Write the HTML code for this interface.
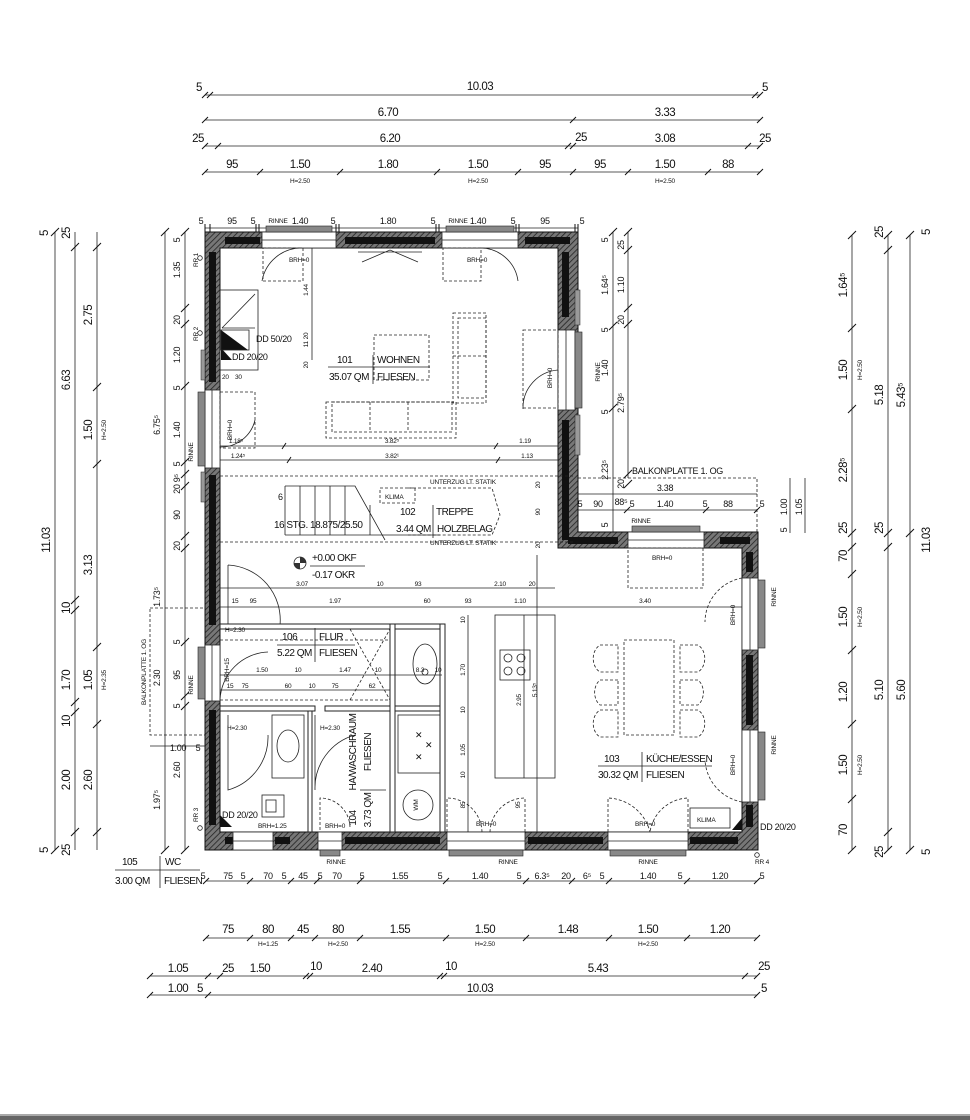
<!DOCTYPE html>
<html><head><meta charset="utf-8"><style>
html,body{margin:0;padding:0;background:#fff;}
svg{display:block;font-family:"Liberation Sans",sans-serif;}
text{fill:#111;}
.d{stroke:#222;stroke-width:0.8;fill:none}
.t{stroke:#111;stroke-width:1;}
.s{font-size:9px;letter-spacing:-0.3px;}
.xs{font-size:6.5px;letter-spacing:-0.2px;}
.m{font-size:10px;letter-spacing:-0.5px;}
.l{font-size:11.5px;letter-spacing:-0.5px;}
.dash{stroke:#222;stroke-width:0.8;fill:none;stroke-dasharray:3 2}
.thin{stroke:#222;stroke-width:0.8;fill:none}
.win{fill:#fff;stroke:#222;stroke-width:0.8}
.rin{fill:#888;stroke:#222;stroke-width:0.6}
</style></head><body>
<svg width="970" height="1120" viewBox="0 0 970 1120" xmlns="http://www.w3.org/2000/svg">
<defs>
<pattern id="h" width="4" height="4" patternUnits="userSpaceOnUse" patternTransform="rotate(45)">
<rect width="4" height="4" fill="#777"/><line x1="0" y1="0" x2="0" y2="4" stroke="#222" stroke-width="1.6"/>
</pattern>
</defs>

<!-- TOP DIMENSIONS -->
<g class="d">
<line x1="205" y1="95" x2="760" y2="95"/>
<line x1="205" y1="120" x2="760" y2="120"/>
<line x1="205" y1="146" x2="760" y2="146"/>
<line x1="205" y1="172" x2="760" y2="172"/>
<line x1="205" y1="228" x2="578" y2="228"/>
</g>
<g class="t">
<path d="M202 98l6-6M207 98l6-6M752 98l6-6M757 98l6-6"/>
<path d="M202 123l6-6M570 123l6-6M757 123l6-6"/>
<path d="M202 149l6-6M215 149l6-6M565 149l6-6M570 149l6-6M745 149l6-6M757 149l6-6"/>
<path d="M202 175l6-6M257 175l6-6M337 175l6-6M434 175l6-6M515 175l6-6M570 175l6-6M625 175l6-6M705 175l6-6M757 175l6-6"/>
<path d="M205 224v8M210 224v8M256 224v8M259 224v8M336 224v8M339 224v8M436 224v8M439 224v8M516 224v8M519 224v8M575 224v8M578 224v8"/>
</g>
<g class="l" text-anchor="middle">
<text x="480" y="90">10.03</text><text x="199" y="91">5</text><text x="765" y="91">5</text>
<text x="388" y="116">6.70</text><text x="665" y="116">3.33</text>
<text x="390" y="142">6.20</text><text x="198" y="142">25</text><text x="581" y="141">25</text><text x="665" y="142">3.08</text><text x="765" y="142">25</text>
<text x="232" y="168">95</text><text x="300" y="168">1.50</text><text x="388" y="168">1.80</text><text x="478" y="168">1.50</text><text x="545" y="168">95</text><text x="600" y="168">95</text><text x="665" y="168">1.50</text><text x="728" y="168">88</text>
</g>
<g class="xs" text-anchor="middle"><text x="300" y="183">H=2.50</text><text x="478" y="183">H=2.50</text><text x="665" y="183">H=2.50</text></g>
<g class="s" text-anchor="middle">
<text x="201" y="224">5</text><text x="232" y="224">95</text><text x="253" y="224">5</text><text x="300" y="224">1.40</text><text x="333" y="224">5</text><text x="388" y="224">1.80</text><text x="433" y="224">5</text><text x="478" y="224">1.40</text><text x="513" y="224">5</text><text x="545" y="224">95</text><text x="582" y="224">5</text>
</g>

<!-- LEFT DIMENSIONS -->
<g class="d">
<line x1="55" y1="232" x2="55" y2="850"/>
<line x1="75" y1="232" x2="75" y2="850"/>
<line x1="97" y1="232" x2="97" y2="850"/>
<line x1="165" y1="232" x2="165" y2="850"/>
<line x1="185" y1="232" x2="185" y2="850"/>
</g>
<g class="t">
<path d="M51 236l8-8M51 854l8-8M71 251l8-8M71 836l8-8M71 604l8-8M71 614l8-8M71 706l8-8M71 716l8-8M93 251l8-8M93 391l8-8M93 468l8-8M93 651l8-8M93 728l8-8M93 836l8-8"/>
<path d="M161 236l8-8M161 854l8-8M181 236l8-8M181 312l8-8M181 328l8-8M181 390l8-8M181 466l8-8M181 478l8-8M181 490l8-8M181 540l8-8M181 552l8-8M181 646l8-8M181 700l8-8M181 710l8-8M181 854l8-8"/>
</g>
<g class="l" text-anchor="middle">
<text transform="translate(50,540) rotate(-90)">11.03</text>
<text transform="translate(48,233) rotate(-90)">5</text>
<text transform="translate(70,233) rotate(-90)">25</text>
<text transform="translate(70,380) rotate(-90)">6.63</text>
<text transform="translate(92,315) rotate(-90)">2.75</text>
<text transform="translate(92,430) rotate(-90)">1.50</text>
<text transform="translate(92,565) rotate(-90)">3.13</text>
<text transform="translate(70,608) rotate(-90)">10</text>
<text transform="translate(70,680) rotate(-90)">1.70</text>
<text transform="translate(92,680) rotate(-90)">1.05</text>
<text transform="translate(70,721) rotate(-90)">10</text>
<text transform="translate(70,780) rotate(-90)">2.00</text>
<text transform="translate(92,780) rotate(-90)">2.60</text>
<text transform="translate(48,850) rotate(-90)">5</text>
<text transform="translate(70,850) rotate(-90)">25</text>
</g>
<g class="xs" text-anchor="middle">
<text transform="translate(106,430) rotate(-90)">H=2.50</text>
<text transform="translate(106,680) rotate(-90)">H=2.35</text>
</g>
<g class="s" text-anchor="middle">
<text transform="translate(180,240) rotate(-90)">5</text>
<text transform="translate(180,270) rotate(-90)">1.35</text>
<text transform="translate(180,320) rotate(-90)">20</text>
<text transform="translate(180,355) rotate(-90)">1.20</text>
<text transform="translate(180,388) rotate(-90)">5</text>
<text transform="translate(180,430) rotate(-90)">1.40</text>
<text transform="translate(160,425) rotate(-90)">6.75⁵</text>
<text transform="translate(180,464) rotate(-90)">5</text>
<text transform="translate(180,484) rotate(-90)">20 9⁵</text>
<text transform="translate(180,515) rotate(-90)">90</text>
<text transform="translate(180,546) rotate(-90)">20</text>
<text transform="translate(160,597) rotate(-90)">1.73⁵</text>
<text transform="translate(180,642) rotate(-90)">5</text>
<text transform="translate(180,675) rotate(-90)">95</text>
<text transform="translate(180,706) rotate(-90)">5</text>
<text transform="translate(180,770) rotate(-90)">2.60</text>
<text transform="translate(160,800) rotate(-90)">1.97⁵</text>
<text transform="translate(160,678) rotate(-90)">2.30</text>
<text x="178" y="751">1.00</text><text x="198" y="751">5</text>
</g>
<g class="xs" text-anchor="middle">
<text transform="translate(146,672) rotate(-90)">BALKONPLATTE 1. OG</text>
<text transform="translate(198,260) rotate(-90)">RR 1</text>
<text transform="translate(198,334) rotate(-90)">RR 2</text>
<text transform="translate(198,815) rotate(-90)">RR 3</text>
<text transform="translate(193,452) rotate(-90)">RINNE</text>
<text transform="translate(193,685) rotate(-90)">RINNE</text>
</g>
<rect x="150" y="608" width="55" height="127" class="dash"/>
<line x1="150" y1="746" x2="205" y2="746" class="d"/>
<g class="thin"><circle cx="200" cy="258" r="2.3"/><circle cx="200" cy="333" r="2.3"/><circle cx="200" cy="828" r="2.3"/><circle cx="757" cy="855" r="2.3"/></g>

<!-- RIGHT DIMENSIONS -->
<g class="d">
<line x1="613" y1="232" x2="613" y2="548"/>
<line x1="628" y1="232" x2="628" y2="478"/>
<line x1="852" y1="235" x2="852" y2="850"/>
<line x1="888" y1="235" x2="888" y2="850"/>
<line x1="910" y1="235" x2="910" y2="850"/>
<line x1="790" y1="478" x2="790" y2="533"/>
<line x1="805" y1="478" x2="805" y2="533"/>
</g>
<g class="t">
<path d="M848 239l8-8M848 332l8-8M848 413l8-8M848 537l8-8M848 551l8-8M848 578l8-8M848 654l8-8M848 728l8-8M848 803l8-8M848 854l8-8"/>
<path d="M884 239l8-8M884 254l8-8M884 537l8-8M884 551l8-8M884 836l8-8M884 854l8-8"/>
<path d="M906 239l8-8M906 537l8-8M906 854l8-8"/>
<path d="M609 236l8-8M624 236l8-8M624 254l8-8M624 312l8-8M624 328l8-8M609 330l8-8M609 412l8-8M624 478l8-8M624 488l8-8"/>
</g>
<g class="l" text-anchor="middle">
<text transform="translate(847,285) rotate(-90)">1.64⁵</text>
<text transform="translate(847,370) rotate(-90)">1.50</text>
<text transform="translate(847,470) rotate(-90)">2.28⁵</text>
<text transform="translate(847,528) rotate(-90)">25</text>
<text transform="translate(847,556) rotate(-90)">70</text>
<text transform="translate(847,617) rotate(-90)">1.50</text>
<text transform="translate(847,692) rotate(-90)">1.20</text>
<text transform="translate(847,765) rotate(-90)">1.50</text>
<text transform="translate(847,830) rotate(-90)">70</text>
<text transform="translate(883,232) rotate(-90)">25</text>
<text transform="translate(883,395) rotate(-90)">5.18</text>
<text transform="translate(883,528) rotate(-90)">25</text>
<text transform="translate(883,690) rotate(-90)">5.10</text>
<text transform="translate(883,852) rotate(-90)">25</text>
<text transform="translate(930,232) rotate(-90)">5</text>
<text transform="translate(905,395) rotate(-90)">5.43⁵</text>
<text transform="translate(930,540) rotate(-90)">11.03</text>
<text transform="translate(905,690) rotate(-90)">5.60</text>
<text transform="translate(930,852) rotate(-90)">5</text>
</g>
<g class="xs" text-anchor="middle">
<text transform="translate(862,370) rotate(-90)">H=2.50</text>
<text transform="translate(862,617) rotate(-90)">H=2.50</text>
<text transform="translate(862,765) rotate(-90)">H=2.50</text>
</g>
<g class="s" text-anchor="middle">
<text transform="translate(608,240) rotate(-90)">5</text>
<text transform="translate(624,245) rotate(-90)">25</text>
<text transform="translate(608,285) rotate(-90)">1.64⁵</text>
<text transform="translate(624,285) rotate(-90)">1.10</text>
<text transform="translate(624,320) rotate(-90)">20</text>
<text transform="translate(608,330) rotate(-90)">5</text>
<text transform="translate(608,368) rotate(-90)">1.40</text>
<text transform="translate(624,403) rotate(-90)">2.79⁵</text>
<text transform="translate(608,412) rotate(-90)">5</text>
<text transform="translate(608,470) rotate(-90)">2.23⁵</text>
<text transform="translate(624,484) rotate(-90)">20</text>
<text transform="translate(608,525) rotate(-90)">5</text>
<text transform="translate(787,507) rotate(-90)">1.00</text>
<text transform="translate(802,507) rotate(-90)">1.05</text>
<text transform="translate(787,530) rotate(-90)">5</text>
</g>
<g class="xs"><text transform="translate(600,372) rotate(-90)" text-anchor="middle">RINNE</text><text transform="translate(776,597) rotate(-90)" text-anchor="middle">RINNE</text><text transform="translate(776,745) rotate(-90)" text-anchor="middle">RINNE</text></g>

<!-- Balkonplatte right -->
<path d="M578 478H757V533" class="dash"/>
<line x1="578" y1="494" x2="757" y2="494" class="d"/>
<line x1="578" y1="510" x2="757" y2="510" class="d"/>
<text x="632" y="474" class="s">BALKONPLATTE 1. OG</text>
<text x="665" y="491" class="s" text-anchor="middle">3.38</text>
<g class="s" text-anchor="middle"><text x="580" y="507">5</text><text x="598" y="507">90</text><text x="621" y="505">88⁵</text><text x="632" y="507">5</text><text x="665" y="507">1.40</text><text x="705" y="507">5</text><text x="728" y="507">88</text><text x="762" y="507">5</text></g>
<g class="t"><path d="M624 513l6-6M703 513l6-6M754 513l6-6"/></g>

<!-- BOTTOM DIMENSIONS -->
<g class="d">
<line x1="206" y1="881" x2="757" y2="881"/>
<line x1="206" y1="938" x2="757" y2="938"/>
<line x1="150" y1="976" x2="757" y2="976"/>
<line x1="150" y1="995" x2="757" y2="995"/>
</g>
<g class="t">
<path d="M203 884l6-6M247 884l6-6M288 884l6-6M314 884l6-6M357 884l6-6M443 884l6-6M523 884l6-6M569 884l6-6M606 884l6-6M684 884l6-6M754 884l6-6"/>
<path d="M203 941l6-6M247 941l6-6M288 941l6-6M312 941l6-6M357 941l6-6M443 941l6-6M523 941l6-6M606 941l6-6M684 941l6-6M754 941l6-6"/>
<path d="M147 979l6-6M205 979l6-6M217 979l6-6M303 979l6-6M307 979l6-6M437 979l6-6M441 979l6-6M742 979l6-6M754 979l6-6"/>
<path d="M147 998l6-6M205 998l6-6M754 998l6-6"/>
</g>
<g class="s" text-anchor="middle">
<text x="203" y="879">5</text><text x="228" y="879">75</text><text x="243" y="879">5</text><text x="268" y="879">70</text><text x="284" y="879">5</text><text x="303" y="879">45</text><text x="320" y="879">5</text><text x="337" y="879">70</text><text x="362" y="879">5</text><text x="400" y="879">1.55</text><text x="440" y="879">5</text><text x="480" y="879">1.40</text><text x="519" y="879">5</text><text x="542" y="879">6.3⁵</text><text x="566" y="879">20</text><text x="587" y="879">6⁵</text><text x="602" y="879">5</text><text x="648" y="879">1.40</text><text x="680" y="879">5</text><text x="720" y="879">1.20</text><text x="762" y="879">5</text>
</g>
<g class="l" text-anchor="middle">
<text x="228" y="933">75</text><text x="268" y="933">80</text><text x="303" y="933">45</text><text x="338" y="933">80</text><text x="400" y="933">1.55</text><text x="485" y="933">1.50</text><text x="568" y="933">1.48</text><text x="648" y="933">1.50</text><text x="720" y="933">1.20</text>
<text x="178" y="972">1.05</text><text x="228" y="972">25</text><text x="260" y="972">1.50</text><text x="316" y="970">10</text><text x="372" y="972">2.40</text><text x="451" y="970">10</text><text x="598" y="972">5.43</text><text x="764" y="970">25</text>
<text x="178" y="992">1.00</text><text x="200" y="992">5</text><text x="480" y="992">10.03</text><text x="764" y="992">5</text>
</g>
<g class="xs" text-anchor="middle"><text x="268" y="946">H=1.25</text><text x="338" y="946">H=2.50</text><text x="485" y="946">H=2.50</text><text x="648" y="946">H=2.50</text></g>
<g class="m"><text x="122" y="865">105</text><text x="165" y="865">WC</text><text x="115" y="884">3.00 QM</text><text x="164" y="884">FLIESEN</text></g>
<line x1="115" y1="870" x2="200" y2="870" class="d"/><line x1="160" y1="856" x2="160" y2="888" class="d"/>

<!-- BUILDING WALLS -->
<path d="M205 232H578V532H758V850H205Z M220 248V832H742V548H558V248Z" fill="url(#h)" fill-rule="evenodd" stroke="#111" stroke-width="1"/>
<g fill="#111">
<rect x="209" y="252" width="7" height="130"/><rect x="209" y="475" width="7" height="150"/><rect x="209" y="710" width="7" height="115"/>
<rect x="225" y="237" width="35" height="7"/><rect x="345" y="237" width="90" height="7"/><rect x="525" y="237" width="45" height="7"/>
<rect x="562" y="252" width="7" height="65"/><rect x="562" y="420" width="7" height="120"/>
<rect x="568" y="537" width="50" height="7"/><rect x="720" y="537" width="30" height="7"/>
<rect x="746" y="552" width="7" height="20"/><rect x="746" y="655" width="7" height="70"/><rect x="746" y="805" width="7" height="22"/>
<rect x="225" y="837" width="8" height="7"/><rect x="275" y="837" width="15" height="7"/><rect x="345" y="837" width="95" height="7"/><rect x="528" y="837" width="75" height="7"/><rect x="690" y="837" width="48" height="7"/>
</g>
<!-- windows -->
<g class="win">
<rect x="262" y="232" width="74" height="16"/><rect x="442" y="232" width="76" height="16"/>
<rect x="205" y="390" width="15" height="78"/><rect x="205" y="645" width="15" height="56"/>
<rect x="558" y="330" width="17" height="80"/>
<rect x="628" y="532" width="76" height="16"/>
<rect x="742" y="578" width="16" height="72"/><rect x="742" y="730" width="16" height="72"/>
<rect x="233" y="832" width="40" height="18"/><rect x="318" y="832" width="24" height="18"/><rect x="447" y="832" width="78" height="18"/><rect x="608" y="832" width="80" height="18"/>
</g>
<g class="thin"><path d="M262 240H336M442 240H518M212 390V468M212 645V701M566 330V410M628 540H704M750 578V650M750 730V802M233 841H273M318 841H342M447 841H525M608 841H688"/></g>
<!-- rinne -->
<g class="rin">
<rect x="266" y="226" width="66" height="6"/><rect x="446" y="226" width="68" height="6"/>
<rect x="198" y="392" width="7" height="74"/><rect x="198" y="647" width="7" height="52"/>
<rect x="575" y="332" width="7" height="76"/><rect x="632" y="526" width="68" height="6"/>
<rect x="758" y="580" width="7" height="68"/><rect x="758" y="732" width="7" height="68"/>
<rect x="320" y="850" width="20" height="6"/><rect x="449" y="850" width="74" height="6"/><rect x="610" y="850" width="76" height="6"/>
</g>
<g class="xs" text-anchor="middle"><text x="278" y="223">RINNE</text><text x="458" y="223">RINNE</text><text x="641" y="523">RINNE</text><text x="336" y="864">RINNE</text><text x="508" y="864">RINNE</text><text x="648" y="864">RINNE</text><text x="762" y="864">RR 4</text></g>
<g fill="#999" stroke="#222" stroke-width="0.5"><rect x="575" y="290" width="5" height="35"/><rect x="575" y="415" width="5" height="40"/><rect x="201" y="350" width="4" height="30"/><rect x="201" y="472" width="4" height="30"/></g>

<!-- INTERIOR -->
<g class="dash"><rect x="263" y="248" width="40" height="33"/><rect x="443" y="248" width="38" height="33"/><rect x="523" y="330" width="35" height="78"/><rect x="220" y="392" width="35" height="56"/></g>
<g class="thin">
<path d="M262 281A40 40 0 0 1 302 248M518 281A38 38 0 0 0 480 248M523 409A38 38 0 0 1 558 370M220 447A35 35 0 0 0 255 420"/>
<path d="M362 262L390 250L418 262M358 252H422"/>
</g>
<text x="289" y="262" class="xs">BRH=0</text><text x="467" y="262" class="xs">BRH=0</text>
<text transform="translate(552,378) rotate(-90)" class="xs" text-anchor="middle">BRH=0</text>
<text transform="translate(232,430) rotate(-90)" class="xs" text-anchor="middle">BRH=0</text>
<rect x="220" y="290" width="38" height="80" class="thin"/>
<path d="M222 328L255 294M222 328H255" class="thin"/>
<path d="M221 330L248 350H221Z" fill="#111"/><path d="M221 348L232 360H221Z" fill="#111"/>
<rect x="221" y="330" width="28" height="20" class="thin"/>
<text x="256" y="342" class="s">DD 50/20</text><text x="232" y="360" class="s">DD 20/20</text>
<text x="222" y="379" class="xs">20</text><text x="235" y="379" class="xs">30</text>
<path d="M312 248V360" class="d"/><text transform="translate(308,290) rotate(-90)" class="xs" text-anchor="middle">1.44</text>
<text transform="translate(308,340) rotate(-90)" class="xs" text-anchor="middle">11 20</text><text transform="translate(308,365) rotate(-90)" class="xs" text-anchor="middle">20</text>
<g class="dash">
<rect x="374" y="335" width="55" height="45"/><rect x="453" y="313" width="33" height="90"/><rect x="458" y="318" width="28" height="80"/>
<rect x="326" y="402" width="130" height="36"/><rect x="332" y="402" width="120" height="30"/>
<line x1="370" y1="402" x2="370" y2="432"/><line x1="408" y1="402" x2="408" y2="432"/><line x1="453" y1="356" x2="486" y2="356"/>
</g>
<text x="337" y="363" class="m">101</text><text x="377" y="363" class="m">WOHNEN</text>
<text x="329" y="380" class="m">35.07 QM</text><text x="377" y="380" class="m">FLIESEN</text>
<path d="M328 367H430M373 355V384" class="thin"/>
<g class="d"><line x1="220" y1="446" x2="558" y2="446"/><line x1="220" y1="460" x2="558" y2="460"/></g>
<g class="t"><path d="M282 449l4-6M494 449l4-6M287 463l4-6M496 463l4-6"/></g>
<g class="xs" text-anchor="middle"><text x="236" y="443">1.18⁵</text><text x="392" y="443">3.82⁵</text><text x="525" y="443">1.19</text><text x="238" y="458">1.24⁵</text><text x="392" y="458">3.82¹</text><text x="527" y="458">1.13</text></g>
<g class="dash"><line x1="220" y1="476" x2="575" y2="476"/><line x1="220" y1="542" x2="575" y2="542"/><rect x="380" y="488" width="35" height="15"/><path d="M408 488H492L500 515L492 535H408"/></g>
<g class="thin">
<path d="M285 486H355L385 540M285 486V535M300 486V535M315 486V535M330 486V535M345 486V535M285 535H440M370 535V505"/>
</g>
<text x="430" y="484" class="xs">UNTERZUG LT. STATIK</text><text x="430" y="545" class="xs">UNTERZUG LT. STATIK</text>
<text x="385" y="499" class="xs">KLIMA</text>
<text x="278" y="500" class="s">6</text>
<text x="274" y="528" class="m">16 STG. 18.875/25.50</text>
<text x="400" y="515" class="m">102</text><text x="436" y="515" class="m">TREPPE</text>
<text x="396" y="532" class="m">3.44 QM</text><text x="437" y="532" class="m">HOLZBELAG</text>
<path d="M433 505V538" class="thin"/>
<text transform="translate(540,485) rotate(-90)" class="xs" text-anchor="middle">20</text>
<text transform="translate(540,512) rotate(-90)" class="xs" text-anchor="middle">90</text>
<text transform="translate(540,545) rotate(-90)" class="xs" text-anchor="middle">20</text>
<circle cx="300" cy="563" r="6" class="thin"/><path d="M300 557A6 6 0 0 1 306 563H300Z M300 569A6 6 0 0 1 294 563H300Z" fill="#333"/>
<text x="312" y="561" class="m">+0.00 OKF</text><text x="312" y="578" class="m">-0.17 OKR</text>
<line x1="310" y1="566" x2="365" y2="566" class="thin"/>
<g class="d"><line x1="220" y1="588" x2="555" y2="588"/><line x1="220" y1="607" x2="742" y2="607"/></g>
<g class="xs" text-anchor="middle"><text x="302" y="586">3.07</text><text x="380" y="586">10</text><text x="418" y="586">93</text><text x="500" y="586">2.10</text><text x="532" y="586">20</text>
<text x="235" y="603">15</text><text x="253" y="603">95</text><text x="335" y="603">1.97</text><text x="427" y="603">60</text><text x="468" y="603">93</text><text x="520" y="603">1.10</text><text x="645" y="603">3.40</text></g>
<path d="M228 565V625M228 565A55 55 0 0 1 280 625" class="thin"/>
<g fill="#fff" stroke="#222" stroke-width="1">
<rect x="220" y="624" width="225" height="5"/>
<rect x="220" y="706" width="95" height="5"/><rect x="325" y="706" width="120" height="5"/>
<rect x="390" y="624" width="5" height="208"/><rect x="440" y="624" width="5" height="208"/>
<rect x="308" y="711" width="4" height="121"/>
</g>
<g class="dash"><path d="M220 640H390M220 700H390M350 629L390 700M350 700L390 629"/></g>
<text x="225" y="632" class="xs">H=2.30</text>
<text x="282" y="640" class="m">106</text><text x="319" y="640" class="m">FLUR</text>
<text x="277" y="656" class="m">5.22 QM</text><text x="319" y="656" class="m">FLIESEN</text>
<path d="M277 645H355M315 628V662" class="thin"/>
<g class="d"><line x1="220" y1="675" x2="442" y2="675"/><line x1="220" y1="690" x2="390" y2="690"/></g>
<g class="xs" text-anchor="middle"><text x="262" y="672">1.50</text><text x="298" y="672">10</text><text x="345" y="672">1.47</text><text x="378" y="672">10</text><text x="420" y="672">8.3</text><text x="438" y="672">10</text>
<text x="230" y="688">15</text><text x="245" y="688">75</text><text x="288" y="688">60</text><text x="312" y="688">10</text><text x="335" y="688">75</text><text x="372" y="688">62</text></g>
<text transform="translate(229,670) rotate(-90)" class="xs" text-anchor="middle">BRH=15</text>
<path d="M220 700A50 50 0 0 1 268 652" class="thin"/>
<text x="227" y="730" class="xs">H=2.30</text><text x="320" y="730" class="xs">H=2.30</text>
<path d="M228 715V790A55 55 0 0 0 268 735M315 715V790A55 55 0 0 1 355 735" class="thin"/>
<rect x="272" y="715" width="32" height="63" class="thin"/><ellipse cx="288" cy="746" rx="11" ry="16" class="thin"/>
<rect x="262" y="795" width="22" height="22" class="thin"/><rect x="266" y="800" width="10" height="12" class="thin"/>
<path d="M220 815L232 827H220Z" fill="#111"/>
<text x="222" y="818" class="s">DD 20/20</text><text x="258" y="828" class="xs">BRH=1.25</text>
<path d="M320 830V798A30 30 0 0 1 350 828" class="dash"/><text x="325" y="828" class="xs">BRH=0</text>
<text transform="translate(356,752) rotate(-90)" class="m" text-anchor="middle">HA/WASCHRAUM</text>
<text transform="translate(371,752) rotate(-90)" class="m" text-anchor="middle">FLIESEN</text>
<text transform="translate(356,818) rotate(-90)" class="m" text-anchor="middle">104</text>
<text transform="translate(371,810) rotate(-90)" class="m" text-anchor="middle">3.73 QM</text>
<path d="M360 790H386" class="thin"/>
<ellipse cx="425" cy="664" rx="12" ry="20" class="thin"/><circle cx="425" cy="672" r="3" class="thin"/>
<rect x="398" y="715" width="42" height="58" class="thin"/>
<text x="415" y="738" class="s">✕</text><text x="425" y="748" class="s">✕</text><text x="415" y="760" class="s">✕</text>
<circle cx="418" cy="805" r="15" class="thin"/><text transform="translate(418,805) rotate(-90)" class="xs" text-anchor="middle">WM</text>
<rect x="495" y="615" width="60" height="163" class="thin"/>
<rect x="500" y="650" width="30" height="30" class="thin"/>
<g class="thin"><circle cx="508" cy="658" r="4"/><circle cx="521" cy="658" r="4"/><circle cx="508" cy="671" r="4"/><circle cx="521" cy="671" r="4"/></g>
<line x1="524" y1="615" x2="524" y2="778" class="thin"/><line x1="537" y1="555" x2="537" y2="832" class="thin"/>
<text transform="translate(521,700) rotate(-90)" class="xs" text-anchor="middle">2.95</text>
<text transform="translate(537,690) rotate(-90)" class="xs" text-anchor="middle">5.13⁵</text>
<line x1="468" y1="615" x2="468" y2="832" class="d"/>
<g class="xs" text-anchor="middle"><text transform="translate(465,620) rotate(-90)">10</text><text transform="translate(465,670) rotate(-90)">1.70</text><text transform="translate(465,710) rotate(-90)">10</text><text transform="translate(465,750) rotate(-90)">1.05</text><text transform="translate(465,775) rotate(-90)">10</text><text transform="translate(465,805) rotate(-90)">85</text><text transform="translate(520,805) rotate(-90)">95</text></g>
<g class="dash"><path d="M447 832V798A35 35 0 0 1 482 832M525 832V798A35 35 0 0 0 490 832M608 832V798A45 45 0 0 1 650 832M688 832V798A40 40 0 0 0 650 832"/>
<rect x="628" y="548" width="75" height="40"/><path d="M742 578A45 45 0 0 0 705 622M742 802A45 45 0 0 1 705 760"/></g>
<g class="xs"><text x="476" y="826">BRH=0</text><text x="635" y="826">BRH=0</text><text x="652" y="560">BRH=0</text></g>
<text transform="translate(735,615) rotate(-90)" class="xs" text-anchor="middle">BRH=0</text>
<text transform="translate(735,765) rotate(-90)" class="xs" text-anchor="middle">BRH=0</text>
<rect x="690" y="808" width="40" height="20" class="thin"/><text x="697" y="822" class="xs">KLIMA</text>
<path d="M742 818L732 830H742Z" fill="#111"/><text x="760" y="830" class="s">DD 20/20</text>
<rect x="624" y="640" width="50" height="95" class="dash"/>
<g class="dash"><path d="M618 645H600A12 15 0 0 0 600 672H618Z M618 680H600A12 15 0 0 0 600 705H618Z M618 710H600A12 15 0 0 0 600 737H618Z M680 645H698A12 15 0 0 1 698 672H680Z M680 680H698A12 15 0 0 1 698 705H680Z M680 710H698A12 15 0 0 1 698 737H680Z"/></g>
<text x="604" y="762" class="m">103</text><text x="646" y="762" class="m">KÜCHE/ESSEN</text>
<text x="598" y="778" class="m">30.32 QM</text><text x="646" y="778" class="m">FLIESEN</text>
<path d="M598 766H712M642 752V782" class="thin"/>

<rect x="0" y="1114" width="970" height="2" fill="#aaa"/>
<rect x="0" y="1116" width="970" height="4" fill="#666"/>
</svg>
</body></html>
